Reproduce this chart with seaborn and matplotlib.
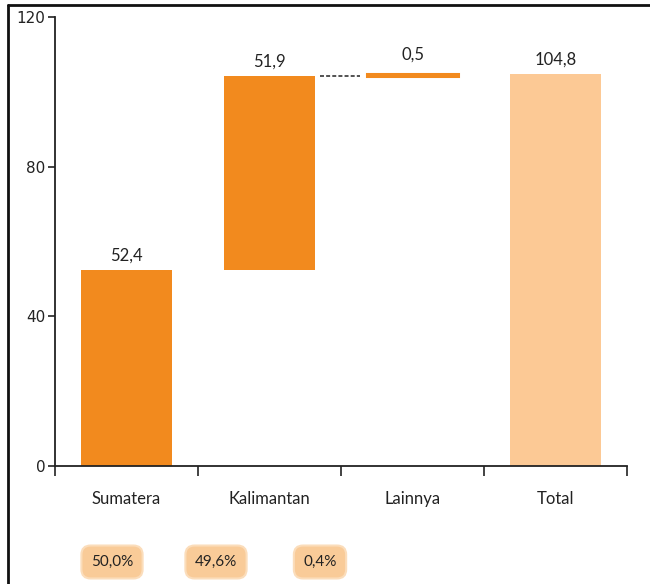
import matplotlib
matplotlib.use("Agg")
import matplotlib.pyplot as plt
import seaborn as sns
import pandas as pd
import numpy as np
from matplotlib.lines import Line2D

# Production by region (waterfall) and regional shares
categories = ["Sumatera", "Kalimantan", "Lainnya", "Total"]
values = [52.4, 51.9, 0.5, 104.8]
kinds = ["step", "step", "step", "total"]
shares = ["50,0%", "49,6%", "0,4%"]
y_ticks = [0, 40, 80, 120]

sns.set_theme(style="white")
plt.rcParams["font.family"] = ["Lato", "DejaVu Sans"]

STEP = "#F28A1E"
TOTAL = "#FCC995"

# running bottoms of the waterfall steps; the total starts at zero
bottoms = []
run = 0.0
for v, k in zip(values, kinds):
    if k == "total":
        bottoms.append(0.0)
    else:
        bottoms.append(run)
        run += v

df = pd.DataFrame({"kategori": categories, "nilai": values, "jenis": kinds,
                   "dasar": bottoms})

fig = plt.figure(figsize=(6.5, 5.84), dpi=100)
ax = fig.add_axes([55 / 650, 1 - 466 / 584, 572 / 650, 449 / 584])

sns.barplot(data=df, x="kategori", y="nilai", hue="jenis",
            palette={"step": STEP, "total": TOTAL}, dodge=False,
            width=0.64, legend=False, saturation=1, ax=ax)

# lift each bar onto its waterfall base
bars = sorted([p for p in ax.patches if p.get_height() > 0],
              key=lambda p: p.get_x())
for p, b, v in zip(bars, df["dasar"], df["nilai"]):
    p.set_y(b)
    p.set_linewidth(0)
    if v < 2:
        # thin step: give it a visible thickness
        p.set_edgecolor(STEP)
        p.set_linewidth(2.2)

# value labels
for i, (b, v) in enumerate(zip(df["dasar"], df["nilai"])):
    top = b + v
    off = 1.6 if v >= 2 else 3.0
    ax.text(i, top + off, f"{v:.1f}".replace(".", ","), ha="center",
            va="bottom", fontsize=12, color="#222222")

# connector between Kalimantan top and Lainnya
k_top = df["dasar"][1] + df["nilai"][1]
ax.plot([1.35, 1.63], [k_top, k_top], linestyle=(0, (2.2, 1.2)),
        color="#444444", lw=1.3)

ax.set_xlim(-0.5, 3.5)
ax.set_ylim(0, 120)
ax.set_yticks(y_ticks)
ax.set_yticklabels([str(t) for t in y_ticks], fontsize=11, color="#222222",
                   family=["DejaVu Sans"])
ax.set_xlabel("")
ax.set_ylabel("")
ax.set_xticks(range(len(categories)))
ax.set_xticklabels(categories, fontsize=12, color="#222222")
ax.tick_params(axis="x", which="major", length=0, pad=18)
ax.set_xticks(np.arange(-0.5, len(categories), 1.0), minor=True)
ax.tick_params(axis="x", which="minor", length=7, width=1.2, color="#222222",
               direction="out", bottom=True)
ax.tick_params(axis="y", length=5, width=1.2, color="#222222", left=True,
               pad=2)
for s in ["top", "right"]:
    ax.spines[s].set_visible(False)
for s in ["left", "bottom"]:
    ax.spines[s].set_color("#222222")
    ax.spines[s].set_linewidth(1.3)

# share boxes under the chart
for x, s in zip([112, 216, 320], shares):
    fig.text(x / 650, 1 - 562 / 584, s, ha="center", va="center",
             fontsize=11, color="#222222",
             bbox=dict(boxstyle="round,pad=0.62,rounding_size=0.6",
                       fc="#F9CB98", ec="#FBDDBB", lw=1.5))

# outer frame (left and top edges)
fig.add_artist(Line2D([8 / 650, 8 / 650], [0, 1 - 5 / 584],
                      transform=fig.transFigure, color="#111111", lw=2))
fig.add_artist(Line2D([8 / 650, 1], [1 - 5 / 584, 1 - 5 / 584],
                      transform=fig.transFigure, color="#111111", lw=2))

fig.savefig("out.png", dpi=100, facecolor="white")
